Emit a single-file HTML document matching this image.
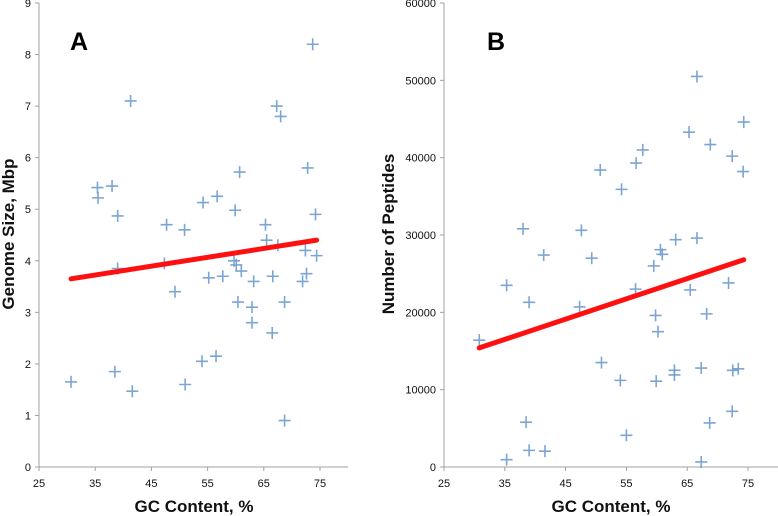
<!DOCTYPE html>
<html><head><meta charset="utf-8"><style>
body{margin:0;background:#fff;}
svg{display:block;font-family:"Liberation Sans",sans-serif;}
</style></head><body>
<svg id="c" width="778" height="516"></svg>
<script>
const gcA=[30.7,35.4,35.5,38,38.5,39,39,41.3,41.6,47.3,47.7,49.2,50.9,51,54,54.2,55.2,56.5,56.7,57.7,59.7,59.9,60.1,60.4,60.7,61,62.9,62.9,63.2,65.3,65.5,66.5,66.6,67.3,67.5,68,68.7,68.7,71.9,72.4,72.6,72.8,73.7,74.2,74.4];
const sizeA=[1.65,5.42,5.22,5.45,1.85,4.87,3.85,7.1,1.47,3.95,4.7,3.4,4.6,1.6,2.05,5.13,3.67,2.15,5.25,3.7,4.0,4.98,3.92,3.2,5.72,3.8,3.1,2.8,3.6,4.7,4.4,2.6,3.7,7.0,4.3,6.8,3.2,0.9,3.6,4.2,3.75,5.8,8.2,4.9,4.1];
const trendA=[[30.7,3.65],[74.4,4.4]];
const gcB=[30.8,35.3,35.3,38,39,38.5,39,41.4,41.6,47.3,47.6,49.3,50.7,50.9,54.2,54,55,56.5,56.6,57.7,59.5,59.8,60.2,59.9,60.6,60.9,63.1,62.9,62.9,65.3,65.5,66.6,66.6,67.3,67.3,68.2,68.8,68.7,71.8,72.4,72.4,72.5,73.4,74.3,74.2];
const pepB=[16400,23500,950,30800,21300,5800,2150,27400,2050,20700,30600,27000,38400,13500,35900,11200,4100,23000,39300,41000,26000,19600,17500,11100,28100,27500,29400,12500,11900,43300,22900,50500,29600,12800,650,19800,41700,5700,23800,40200,7200,12500,12700,44600,38200];
const trendB=[[30.8,15400],[74.3,26800]];
const xTicks=[25,35,45,55,65,75];
const yTicksA=[0,1,2,3,4,5,6,7,8,9];
const yTicksB=[0,10000,20000,30000,40000,50000,60000];

const svg=document.getElementById('c');
const NS='http://www.w3.org/2000/svg';
function mk(t,a,p){const e=document.createElementNS(NS,t);for(const k in a)e.setAttribute(k,a[k]);(p||svg).appendChild(e);return e;}

function panel(cfg){
  const g=mk('g',{});
  
  
  const x=v=>cfg.x0+(v-25)/50*(cfg.x75-cfg.x0);
  const y=v=>467-v/cfg.ymax*464;
  const ax=mk('line',{x1:cfg.x0,y1:3,x2:cfg.x0,y2:467,stroke:'#a0a0a0','stroke-width':1},g);
  
  const bx=mk('line',{x1:cfg.x0,y1:467,x2:cfg.xend,y2:467,stroke:'#a0a0a0','stroke-width':1},g);
  
  cfg.yt.forEach(v=>{
    mk('line',{x1:cfg.x0-4,y1:y(v),x2:cfg.x0,y2:y(v),stroke:'#a0a0a0'},g);
    const t=mk('text',{x:cfg.x0-8,y:y(v)+4,'text-anchor':'end','font-size':11,fill:'#111'},g);
    t.textContent=v;
    
  });
  xTicks.forEach(v=>{
    mk('line',{x1:x(v),y1:467,x2:x(v),y2:471,stroke:'#a0a0a0'},g);
    const t=mk('text',{x:x(v),y:487,'text-anchor':'middle','font-size':11,fill:'#111'},g);
    t.textContent=v;
    
  });
  cfg.gx.forEach((gv,i)=>{
    const px=x(gv),py=y(cfg.gy[i]);
    const p=mk('path',{d:`M${px-6} ${py}H${px+6}M${px} ${py-6}V${py+6}`,stroke:'#6f9bcf','stroke-width':1.6,fill:'none',opacity:0.9},g);
    
  });
  const tl=mk('line',{x1:x(cfg.tr[0][0]),y1:y(cfg.tr[0][1]),x2:x(cfg.tr[1][0]),y2:y(cfg.tr[1][1]),stroke:'#ff1010','stroke-width':5,'stroke-linecap':'round'},g);
  
  const xt=mk('text',{x:cfg.xtx,y:512,'text-anchor':'middle','font-size':17,'font-weight':'bold',fill:'#111'},g);
  xt.textContent='GC Content, %';
  
  const yt=mk('text',{x:0,y:0,'text-anchor':'middle','font-size':17,'font-weight':'bold',fill:'#111',transform:`translate(${cfg.ytx},${cfg.yty}) rotate(-90)`},g);
  yt.textContent=cfg.ylab;
  
  const L=mk('text',{x:cfg.lx,y:50,'font-size':25,'font-weight':'bold',fill:'#000'},g);
  L.textContent=cfg.letter;
  
}
panel({name:'panel-a',x0:39,x75:320,xend:348,ymax:9,yt:yTicksA,gx:gcA,gy:sizeA,tr:trendA,xtx:194,ytx:14,yty:234,ylab:'Genome Size, Mbp',lx:70,letter:'A'});
panel({name:'panel-b',x0:444,x75:748,xend:778,ymax:60000,yt:yTicksB,gx:gcB,gy:pepB,tr:trendB,xtx:611,ytx:394,yty:234,ylab:'Number of Peptides',lx:487,letter:'B'});
</script>
</body></html>
